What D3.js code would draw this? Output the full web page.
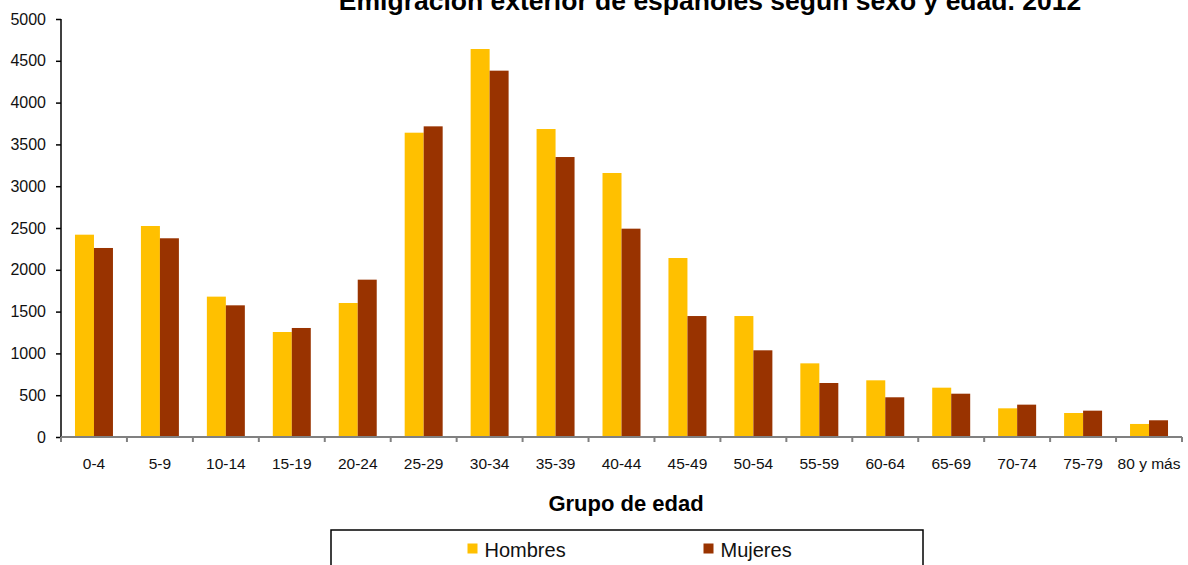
<!DOCTYPE html>
<html>
<head>
<meta charset="utf-8">
<script src="https://cdn.jsdelivr.net/npm/d3@7"></script>
<style>
  body { margin: 0; background: #fff; }
  svg { display: block; font-family: "Liberation Sans", Arial, sans-serif; }
</style>
</head>
<body>
<div id="chart"></div>
<script>
// data
const groups = ["0-4","5-9","10-14","15-19","20-24","25-29","30-34","35-39","40-44","45-49","50-54","55-59","60-64","65-69","70-74","75-79","80 y más"]
const hombres = [2420,2524,1679,1256,1603,3640,4641,3684,3158,2141,1447,881,678,590,343,287,156]
const mujeres = [2261,2377,1575,1304,1882,3716,4382,3349,2492,1447,1037,646,475,518,387,315,200]
const seriesNames = ["Hombres","Mujeres"]
const yTicks = [0,500,1000,1500,2000,2500,3000,3500,4000,4500,5000]

const width = 1188
const height = 565
const plotLeft = 61, plotRight = 1182, plotTop = 19, plotBottom = 437
const color = d3.scaleOrdinal().domain(seriesNames).range(["#FFC000","#993300"])

const svg = d3.select('#chart')
  .append('svg')
  .attr('width', width)
  .attr('height', height)

const x0 = d3.scaleBand()
  .domain(groups)
  .range([plotLeft, plotRight])
  .paddingInner(0.424)
  .paddingOuter(0.212)

const x1 = d3.scaleBand()
  .domain(seriesNames)
  .range([0, x0.bandwidth()])

const y = d3.scaleLinear()
  .domain([0, 5000])
  .range([plotBottom, plotTop])

const rows = groups.map((g, i) => ({ group: g, values: [
  { key: "Hombres", value: hombres[i] },
  { key: "Mujeres", value: mujeres[i] }
]}))

// bars
svg.append('g')
  .selectAll('g')
  .data(rows)
  .enter()
  .append('g')
  .attr('transform', d => 'translate(' + x0(d.group) + ',0)')
  .selectAll('rect')
  .data(d => d.values)
  .enter()
  .append('rect')
  .attr('x', d => x1(d.key))
  .attr('width', x1.bandwidth())
  .attr('y', d => y(d.value))
  .attr('height', d => y(0) - y(d.value))
  .attr('fill', d => color(d.key))

// y axis
const yAxis = svg.append('g')
  .attr('transform', 'translate(' + plotLeft + ',0)')
  .call(d3.axisLeft(y).tickValues(yTicks).tickFormat(d3.format("d")).tickSize(5).tickPadding(10))
yAxis.select('.domain').attr('stroke', '#000').attr('stroke-width', 1.5).attr('d', 'M0,' + plotTop + 'V' + plotBottom)
yAxis.selectAll('.tick line').attr('stroke', '#000').attr('stroke-width', 1.5)
yAxis.selectAll('.tick text').attr('font-size', 16).attr('fill', '#111').attr('font-family', null)

// x axis: line with ticks at category boundaries
const xg = svg.append('g').attr('transform', 'translate(0,' + plotBottom + ')')
const step = x0.step()
xg.append('line')
  .attr('x1', plotLeft).attr('x2', plotRight)
  .attr('stroke', '#808080').attr('stroke-width', 2)
xg.selectAll('.bt')
  .data(d3.range(groups.length + 1))
  .enter()
  .append('line')
  .attr('class', 'bt')
  .attr('x1', i => plotLeft + i * step).attr('x2', i => plotLeft + i * step)
  .attr('y1', 0).attr('y2', 5)
  .attr('stroke', '#808080').attr('stroke-width', 2)

const xAxis = svg.append('g')
  .attr('transform', 'translate(0,' + plotBottom + ')')
  .call(d3.axisBottom(x0).tickSize(0).tickPadding(21))
xAxis.select('.domain').remove()
xAxis.selectAll('.tick text').attr('font-size', 15.5).attr('fill', '#111').attr('font-family', null)

// titles
svg.append('text')
  .attr('x', 710).attr('y', 10)
  .attr('text-anchor', 'middle')
  .attr('font-size', 26.5).attr('font-weight', 'bold')
  .text('Emigración exterior de españoles según sexo y edad. 2012')

svg.append('text')
  .attr('x', 626).attr('y', 511)
  .attr('text-anchor', 'middle')
  .attr('font-size', 22).attr('font-weight', 'bold')
  .text('Grupo de edad')

// legend
svg.append('rect')
  .attr('x', 331).attr('y', 530)
  .attr('width', 592).attr('height', 60)
  .attr('fill', 'none').attr('stroke', '#000').attr('stroke-width', 1.5)

const legendX = [467.5, 703.5]
const legend = svg.selectAll('.legend')
  .data(seriesNames)
  .enter()
  .append('g')
  .attr('class', 'legend')
  .attr('transform', (d, i) => 'translate(' + legendX[i] + ',543.5)')
legend.append('rect')
  .attr('width', 10).attr('height', 10)
  .attr('fill', d => color(d))
legend.append('text')
  .attr('x', 17).attr('y', 13)
  .attr('font-size', 20)
  .attr('fill', '#111')
  .text(d => d)
</script>
</body>
</html>
